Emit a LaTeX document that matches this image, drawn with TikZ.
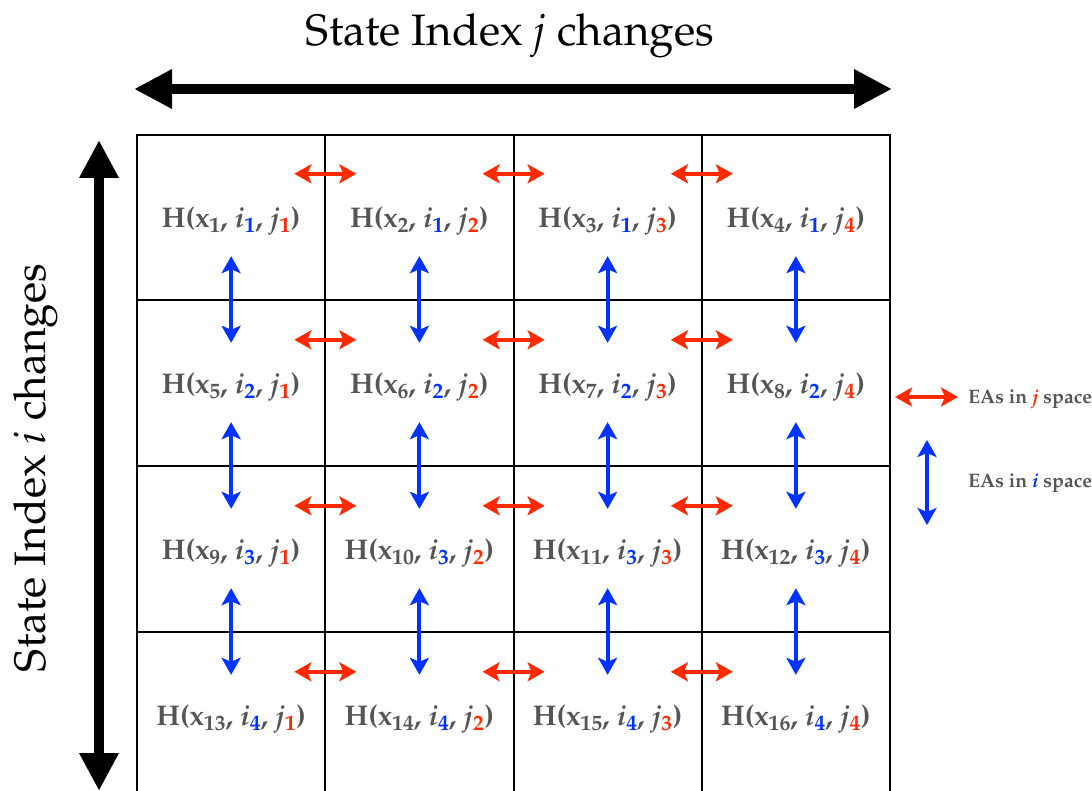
\documentclass[tikz,border=0pt]{standalone}
\usepackage[T1]{fontenc}
\usepackage{mathpazo}
\usetikzlibrary{arrows.meta,calc}
\definecolor{EAred}{HTML}{FF2A00}
\definecolor{EAblue}{HTML}{0033FF}
\definecolor{txtgray}{HTML}{555555}
\newcommand{\Hcell}[3]{\textbf{H(x\textsubscript{#1}, \textit{i}\textsubscript{\color{EAblue}#2}, \textit{j}\textsubscript{\color{EAred}#3})}}
\tikzset{
  cellbox/.style={minimum width=188pt, minimum height=166pt, inner sep=0pt,
    text=txtgray, font=\fontsize{28.5}{31}\selectfont},
  gridline/.style={black, line width=2pt},
  redarrow/.style={EAred, line width=4pt, {Stealth[length=17pt,width=19pt,inset=4pt]}-{Stealth[length=17pt,width=19pt,inset=4pt]}},
  bluearrow/.style={EAblue, line width=4pt, {Stealth[length=17pt,width=19pt,inset=4pt]}-{Stealth[length=17pt,width=19pt,inset=4pt]}},
  bigarrow/.style={black, line width=10pt, {Triangle[length=38pt,width=37pt]}-{Triangle[length=38pt,width=37pt]}},
  bigtext/.style={font=\fontsize{44}{48}\selectfont, inner sep=0pt},
  legendtext/.style={text=txtgray, font=\bfseries\fontsize{19.5}{21}\selectfont, anchor=west, inner sep=0pt}
}
\begin{document}
\begin{tikzpicture}[x=1pt,y=-1pt]
\useasboundingbox (0,0) rectangle (1092,791);
\clip (0,0) rectangle (1092,791);
% grid
\foreach \gx in {137,325,514,702,890}{
  \draw[gridline] (\gx,134) -- (\gx,800);
}
\foreach \gy in {135,300,466,632}{
  \draw[gridline] (136,\gy) -- (891,\gy);
}
% cells
\foreach \r in {1,...,4}{
  \foreach \c in {1,...,4}{
    \pgfmathtruncatemacro{\n}{(\r-1)*4+\c}
    \node[cellbox] (c\r\c) at ({137+188.25*(\c-0.5)},{138+166*(\r-0.5)}) {\Hcell{\n}{\r}{\c}};
  }
}
% red arrows (j space)
\foreach \r in {1,...,4}{
  \foreach \c in {1,2,3}{
    \draw[redarrow] ($(c\r\c.north east)+(-31,36)$) -- ($(c\r\c.north east)+(31,36)$);
  }
}
% blue arrows (i space)
\foreach \r/\s in {1/2,2/3,3/4}{
  \foreach \c in {1,...,4}{
    \draw[bluearrow] ($(c\r\c.south)+(0,-48)$) -- ($(c\s\c.north)+(0,39)$);
  }
}
% big arrows
\coordinate (hL) at (134,89);
\coordinate (hR) at (892,89);
\draw[bigarrow] (hL) -- (hR);
\coordinate (vT) at (99,140);
\coordinate (vB) at (99,791);
\draw[bigarrow] (vT) -- (vB);
\node[bigtext] (titleJ) at (510,36) {State Index \textit{j} changes};
\node[bigtext, rotate=90] (titleI) at (36,468) {State Index \textit{i} changes};
% legend
\coordinate (lrA) at (895,397);
\coordinate (lrB) at (958,397);
\draw[redarrow] (lrA) -- (lrB);
\node[legendtext] (legJ) at (968,399) {EAs in \textit{\color{EAred}j} space};
\coordinate (lbA) at (927,440);
\coordinate (lbB) at (927,525);
\draw[bluearrow] (lbA) -- (lbB);
\node[legendtext] (legI) at (968,483) {EAs in \textit{\color{EAblue}i} space};
\end{tikzpicture}
\end{document}
